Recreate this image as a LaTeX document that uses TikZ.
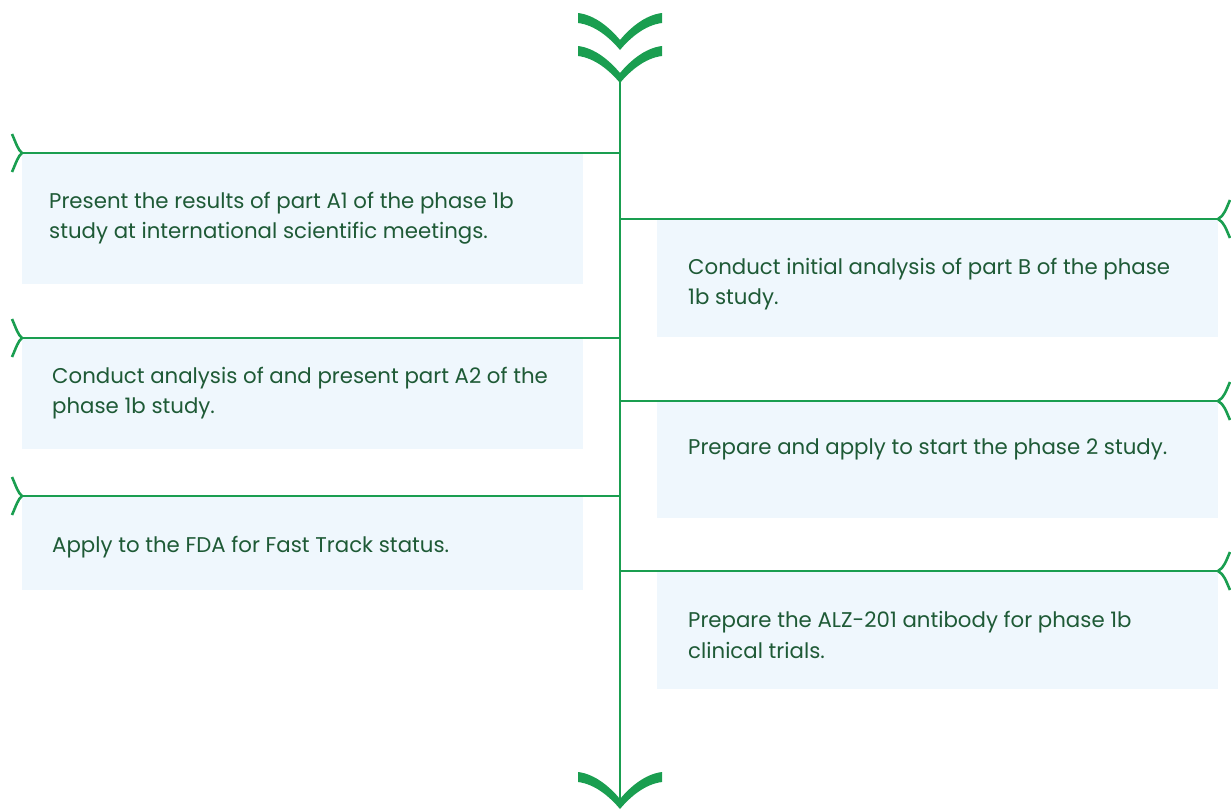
\documentclass[tikz,border=0pt]{standalone}
\usepackage{fontspec}
\setmainfont{Poppins}
\definecolor{linegreen}{HTML}{1A9E50}
\definecolor{textgreen}{HTML}{1E5A36}
\definecolor{boxblue}{HTML}{EFF7FD}
\begin{document}
\begin{tikzpicture}[x=1pt,y=-1pt,
  branch/.style={draw=linegreen,line width=2.6pt},
  card/.style={fill=boxblue,draw=none,anchor=north west,inner sep=0pt,minimum width=561pt},
  label/.style={anchor=west,inner sep=0pt,align=left,text=textgreen,
    font=\fontsize{21.3}{30.5}\selectfont},
  lcap/.pic={\draw[branch] (-10,-19) .. controls (-6,-10) and (-4,-3) .. (0,0)
                     .. controls (-4,3) and (-6,10) .. (-10,19);},
  rcap/.pic={\draw[branch] (12,-19) .. controls (8,-10) and (6,-3) .. (0,0)
                     .. controls (6,3) and (8,10) .. (12,19);},
  chevron/.pic={\fill[linegreen] (-42,-37) .. controls (-25,-35) and (-10,-22) .. (0,-10)
      .. controls (10,-22) and (25,-35) .. (42,-37) -- (42,-27)
      .. controls (25,-25) and (10,-12) .. (0,0)
      .. controls (-10,-12) and (-25,-25) .. (-42,-27) -- cycle;}
]
\useasboundingbox (0,0) rectangle (1231,809);

% cards
\node[card,minimum height=131pt] (boxL1) at (22,153) {};
\node[card,minimum height=118pt] (boxR1) at (657,219) {};
\node[card,minimum height=111pt] (boxL2) at (22,338) {};
\node[card,minimum height=117pt] (boxR2) at (657,401) {};
\node[card,minimum height=94pt]  (boxL3) at (22,496) {};
\node[card,minimum height=118pt] (boxR3) at (657,571) {};

% spine
\coordinate (top) at (620,82);
\coordinate (bottom) at (620,800);
\draw[branch] (top) -- (bottom);
\pic at (620,50) {chevron};
\pic at (620,83) {chevron};
\pic at (620,809) {chevron};

% branches
\foreach \n/\y in {L1/153,L2/338,L3/496}{
  \coordinate (j\n) at (620,\y);
  \coordinate (e\n) at (22,\y);
  \draw[branch] (j\n) -- (e\n);
  \pic at (e\n) {lcap};
}
\foreach \n/\y in {R1/219,R2/401,R3/571}{
  \coordinate (j\n) at (620,\y);
  \coordinate (e\n) at (1218,\y);
  \draw[branch] (j\n) -- (e\n);
  \pic at (e\n) {rcap};
}

% texts
\node[label] (tL1) at (49,218) {Present the results of part A1 of the phase 1b\\study at international scientific meetings.};
\node[label] (tR1) at (688,284) {Conduct initial analysis of part B of the phase\\1b study.};
\node[label] (tL2) at (52,393) {Conduct analysis of and present part A2 of the\\phase 1b study.};
\node[label] (tR2) at (688,449.5) {Prepare and apply to start the phase 2 study.};
\node[label] (tL3) at (52,547.5) {Apply to the FDA for Fast Track status.};
\node[label] (tR3) at (688,635) {Prepare the ALZ-201 antibody for phase 1b\\clinical trials.};
\end{tikzpicture}
\end{document}
